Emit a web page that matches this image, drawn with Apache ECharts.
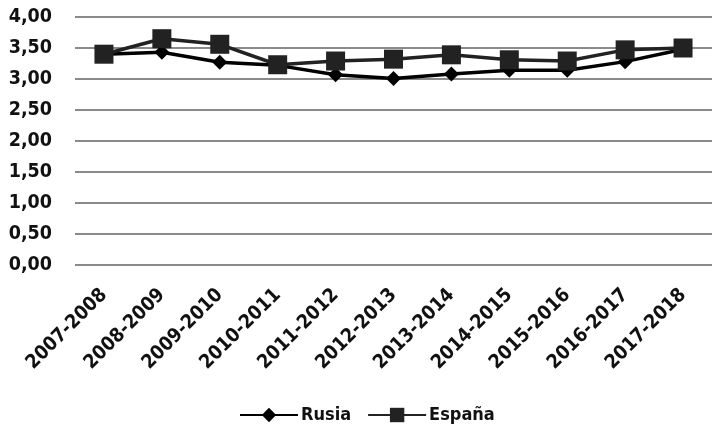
<!DOCTYPE html>
<html><head><meta charset="utf-8">
<script src="https://cdn.jsdelivr.net/npm/echarts@6/dist/echarts.min.js"></script>
<style>html,body{margin:0;padding:0;background:#fff}#c{width:712px;height:427px}</style>
</head><body><div id="c"></div>
<script>
const categories = ['2007-2008','2008-2009','2009-2010','2010-2011','2011-2012','2012-2013','2013-2014','2014-2015','2015-2016','2016-2017','2017-2018'];
const rusia = [3.40, 3.43, 3.27, 3.22, 3.07, 3.01, 3.08, 3.14, 3.14, 3.28, 3.48];
const espana = [3.40, 3.65, 3.56, 3.23, 3.29, 3.32, 3.39, 3.31, 3.29, 3.47, 3.50];
const seriesNames = ['Rusia', 'España'];
const FONT = '"DejaVu Sans Condensed", "DejaVu Sans"';
const chart = echarts.init(document.getElementById('c'));
chart.setOption({
  animation: false,
  grid: { left: 75, right: -7, top: 17, bottom: 162, containLabel: false },
  legend: {
    top: 401, left: 234, itemGap: 16, itemWidth: 58, itemHeight: 18,
    textStyle: { fontFamily: FONT, fontWeight: 'bold', fontSize: 18, color: '#111', padding: [0, 0, 0, -2] },
    data: seriesNames
  },
  xAxis: {
    type: 'category', data: categories, boundaryGap: true,
    axisLine: { show: false }, axisTick: { show: false },
    axisLabel: { rotate: 45, margin: 27, fontFamily: FONT, fontWeight: 'bold', fontSize: 19.5, color: '#111', interval: 0 }
  },
  yAxis: {
    type: 'value', min: 0, max: 4, interval: 0.5,
    axisLine: { show: false }, axisTick: { show: false },
    splitLine: { lineStyle: { color: '#8a8a8a', width: 2 } },
    axisLabel: { margin: 23, fontFamily: FONT, fontWeight: 'bold', fontSize: 19.5, color: '#111',
      formatter: v => v.toFixed(2).replace('.', ',') }
  },
  series: [
    { name: seriesNames[0], type: 'line', data: rusia, symbol: 'diamond', symbolSize: 15,
      lineStyle: { color: '#000', width: 3.5 }, itemStyle: { color: '#000' }, z: 2 },
    { name: seriesNames[1], type: 'line', data: espana, symbol: 'rect', symbolSize: 19,
      lineStyle: { color: '#222', width: 3.5 }, itemStyle: { color: '#222' }, z: 3 }
  ]
});
</script></body></html>
